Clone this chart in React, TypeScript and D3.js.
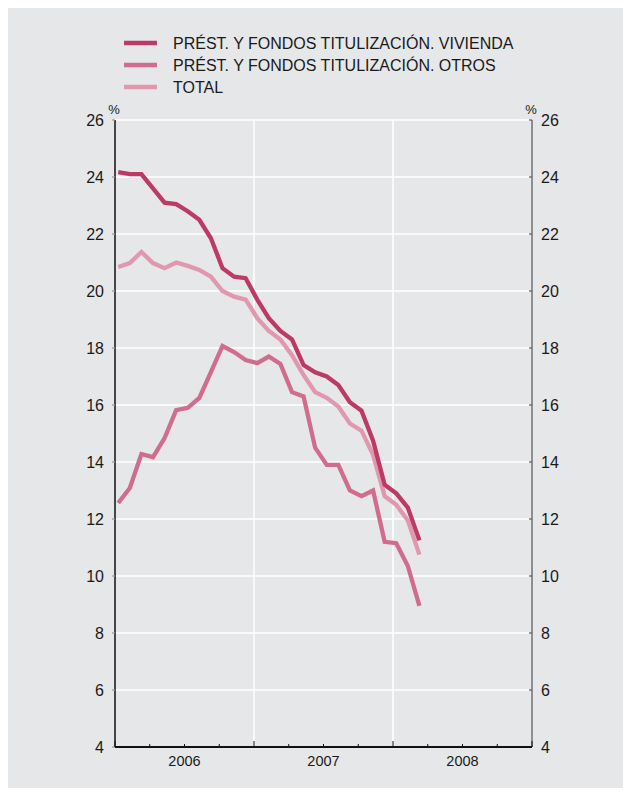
import { line, range, scaleLinear } from 'd3';

// monthly data, Jan 2006 – Mar 2008 (%)
const months = range(27);
const vivienda = [24.17, 24.1, 24.1, 23.6, 23.1, 23.05, 22.8, 22.5, 21.85, 20.8, 20.5, 20.45, 19.7, 19.05, 18.6, 18.3, 17.4, 17.15, 17.0, 16.7, 16.1, 15.8, 14.75, 13.2, 12.9, 12.4, 11.25];
const otros = [12.56, 13.09, 14.28, 14.17, 14.84, 15.82, 15.9, 16.25, 17.15, 18.07, 17.86, 17.58, 17.47, 17.7, 17.44, 16.45, 16.3, 14.5, 13.9, 13.9, 13.0, 12.8, 13.0, 11.2, 11.15, 10.35, 8.95];
const total = [20.84, 20.98, 21.37, 20.98, 20.8, 21.0, 20.88, 20.74, 20.5, 20.0, 19.8, 19.7, 19.05, 18.6, 18.3, 17.75, 17.05, 16.45, 16.25, 15.95, 15.35, 15.1, 14.25, 12.8, 12.5, 11.95, 10.75];
const years = ['2006', '2007', '2008'];
const yTicks = [4, 6, 8, 10, 12, 14, 16, 18, 20, 22, 24, 26];

const seriesList = [
  { name: 'PRÉST. Y FONDOS TITULIZACIÓN. VIVIENDA', values: vivienda, color: '#bc3a64' },
  { name: 'PRÉST. Y FONDOS TITULIZACIÓN. OTROS', values: otros, color: '#d06d8d' },
  { name: 'TOTAL', values: total, color: '#e198ae' },
];

const width = 615;
const height = 780;
// coordinates inside the svg (body margin of 8px shifts it)
const plot = { left: 107, right: 524, top: 112, bottom: 739 };

export default function App() {
  const x = scaleLinear().domain([0, 36]).range([plot.left, plot.right]);
  const y = scaleLinear().domain([4, 26]).range([plot.bottom, plot.top]);
  const font = 'Liberation Sans, Arial, Helvetica, sans-serif';

  const path = line<number>()
    .x((_, i) => x(months[i] + 0.28))
    .y(v => y(v));

  const quarterTicks = range(0, 37, 3);

  return (
    <svg width={width} height={height} style={{ display: 'block', fontFamily: font }}>
      <rect x={0} y={0} width={width} height={height} fill="#e6e7e9" />

      {/* legend */}
      {seriesList.map((s, i) => (
        <g key={s.name} transform={`translate(0, ${35 + i * 22})`}>
          <line x1={116} x2={149} y1={0} y2={0} stroke={s.color} strokeWidth={4.5} />
          <text x={165} y={6} fontSize={16} fill="#1a1a1a">{s.name}</text>
        </g>
      ))}

      {/* grid */}
      {yTicks.slice(1).map(t => (
        <line key={t} x1={plot.left} x2={plot.right} y1={y(t)} y2={y(t)} stroke="#ffffff" strokeWidth={1.5} />
      ))}
      {[12, 24].map(m => (
        <line key={m} x1={x(m)} x2={x(m)} y1={plot.top} y2={plot.bottom} stroke="#ffffff" strokeWidth={1.5} />
      ))}

      {/* axes */}
      <line x1={plot.left} x2={plot.left} y1={plot.top} y2={plot.bottom} stroke="#111" strokeWidth={1.5} />
      <line x1={plot.right} x2={plot.right} y1={plot.top} y2={plot.bottom} stroke="#555" strokeWidth={1.2} />
      {yTicks.map(t => (
        <g key={t}>
          <line x1={plot.left - 3} x2={plot.left} y1={y(t)} y2={y(t)} stroke="#999" strokeWidth={1.2} />
          <line x1={plot.right - 3} x2={plot.right} y1={y(t)} y2={y(t)} stroke="#555" strokeWidth={1.2} />
          <text x={plot.left - 11} y={y(t) + 6} textAnchor="end" fontSize={16} fill="#1a1a1a">{t}</text>
          <text x={plot.right + 9} y={y(t) + 6} textAnchor="start" fontSize={16} fill="#1a1a1a">{t}</text>
        </g>
      ))}
      <text x={plot.left - 1} y={plot.top - 6} textAnchor="middle" fontSize={13} fill="#1a1a1a">%</text>
      <text x={plot.right - 1} y={plot.top - 6} textAnchor="middle" fontSize={13} fill="#1a1a1a">%</text>

      {quarterTicks.map(m => (
        <line key={m} x1={x(m)} x2={x(m)} y1={plot.bottom} y2={plot.bottom - (m % 12 === 0 ? 6 : 3)} stroke="#111" strokeWidth={1} />
      ))}
      <line x1={plot.left} x2={plot.right} y1={plot.bottom} y2={plot.bottom} stroke="#111" strokeWidth={1.8} />
      {years.map((yr, i) => (
        <text key={yr} x={x(i * 12 + 6)} y={plot.bottom + 19} textAnchor="middle" fontSize={14.5} fill="#1a1a1a">{yr}</text>
      ))}

      {/* lines */}
      {[...seriesList].reverse().map(s => (
        <path key={s.name} d={path(s.values) ?? ''} fill="none" stroke={s.color} strokeWidth={4.3} strokeLinejoin="miter" />
      ))}
    </svg>
  );
}
